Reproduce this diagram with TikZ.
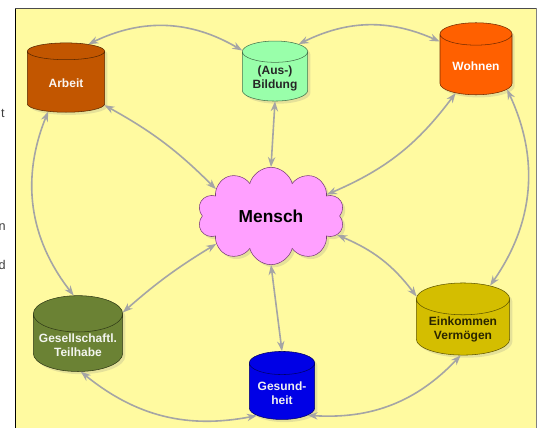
\documentclass[tikz,border=0pt]{standalone}
\usepackage{fontspec}
\setmainfont{Liberation Sans}
\usetikzlibrary{shapes.geometric,shapes.symbols,arrows.meta,shadows}
\definecolor{bgyellow}{RGB}{255,250,160}
\definecolor{linkgray}{RGB}{165,165,165}
\definecolor{arbeitc}{RGB}{194,86,0}
\definecolor{bildungc}{RGB}{153,255,170}
\definecolor{wohnenc}{RGB}{255,96,0}
\definecolor{menschc}{RGB}{255,160,255}
\definecolor{teilhabec}{RGB}{107,130,52}
\definecolor{gesundc}{RGB}{0,0,230}
\definecolor{einkommenc}{RGB}{212,190,0}
\begin{document}
\begin{tikzpicture}[x=0.75pt,y=0.75pt,
  barrel/.style={cylinder, shape border rotate=90, aspect=0.45, draw=#1!45!black, fill=#1,
    align=center, inner sep=1pt, font=\bfseries\fontsize{9}{10.5}\selectfont,
    drop shadow={shadow xshift=2pt,shadow yshift=-2pt,opacity=0.2}},
  link/.style={draw=linkgray, line width=1.2pt, {Stealth[length=7.5pt,width=5.5pt]}-{Stealth[length=7.5pt,width=5.5pt]}}]
  \useasboundingbox (0,0) rectangle (540,428);
  % frame
  \fill[bgyellow] (15,0) rectangle (536,420);
  \draw[black] (15,0) -- (15,420);
  \draw[gray!60!black] (15,420) -- (536,420);
  \draw[gray] (536,420) -- (536,0);
  % cut-off text on the left
  \node[anchor=east, inner sep=0pt, text=black!75, font=\fontsize{9.5}{11}\selectfont] (ct) at (5,315) {t};
  \node[anchor=east, inner sep=0pt, text=black!75, font=\fontsize{9.5}{11}\selectfont] (cn) at (6,201) {n};
  \node[anchor=east, inner sep=0pt, text=black!75, font=\fontsize{9.5}{11}\selectfont] (cd) at (6,163) {d};
  % areas
  \node[barrel=arbeitc, minimum width=58pt, minimum height=52pt, text=white!94!arbeitc] (arbeit) at (66,345) {Arbeit};
  \node[barrel=bildungc, minimum width=49pt, minimum height=45pt, text=black!85] (bildung) at (275,350) {(Aus-)\\Bildung};
  \node[barrel=wohnenc, minimum width=54pt, minimum height=54pt, text=white] (wohnen) at (476,362) {Wohnen};
  \node[barrel=teilhabec, minimum width=67pt, minimum height=50pt, text=white!92!teilhabec] (teilhabe) at (78,83) {Gesellschaftl.\\Teilhabe};
  \node[barrel=gesundc, minimum width=49pt, minimum height=51pt, text=white!88!gray] (gesund) at (282,35) {Gesund-\\heit};
  \node[barrel=einkommenc, minimum width=70pt, minimum height=47pt, text=black!80!einkommenc] (einkommen) at (463,99) {Einkommen\\Vermögen};
  \node[cloud, cloud puffs=10, aspect=1.6, draw={rgb,255:red,120;green,60;blue,120}, fill=menschc,
    minimum width=110pt, minimum height=73pt, font=\bfseries\fontsize{13}{15}\selectfont,
    drop shadow={shadow xshift=2pt,shadow yshift=-2pt,opacity=0.2}] (mensch) at (271,212) {Mensch};
  % links
  \draw[link] (arbeit.60) to[bend left=28] (bildung.140);
  \draw[link] (bildung.55) to[bend left=25] (wohnen.146);
  \draw[link] (arbeit.-30) to[bend left=8] (mensch.154);
  \draw[link] (bildung.south) -- (mensch.north);
  \draw[link] (wohnen.233) to[bend left=15] (mensch.21);
  \draw[link] (wohnen.-37) to[bend left=30] (einkommen.58);
  \draw[link] (arbeit.238) to[bend right=30] (teilhabe.95);
  \draw[link] (mensch.207) to[bend right=5] (teilhabe.36);
  \draw[link] (mensch.south) -- (gesund.north);
  \draw[link] (mensch.-16) to[bend left=15] (einkommen.145);
  \draw[link] (teilhabe.-84) to[bend right=25] (gesund.222);
  \draw[link] (gesund.-41) to[bend right=25] (einkommen.265);
\end{tikzpicture}
\end{document}
